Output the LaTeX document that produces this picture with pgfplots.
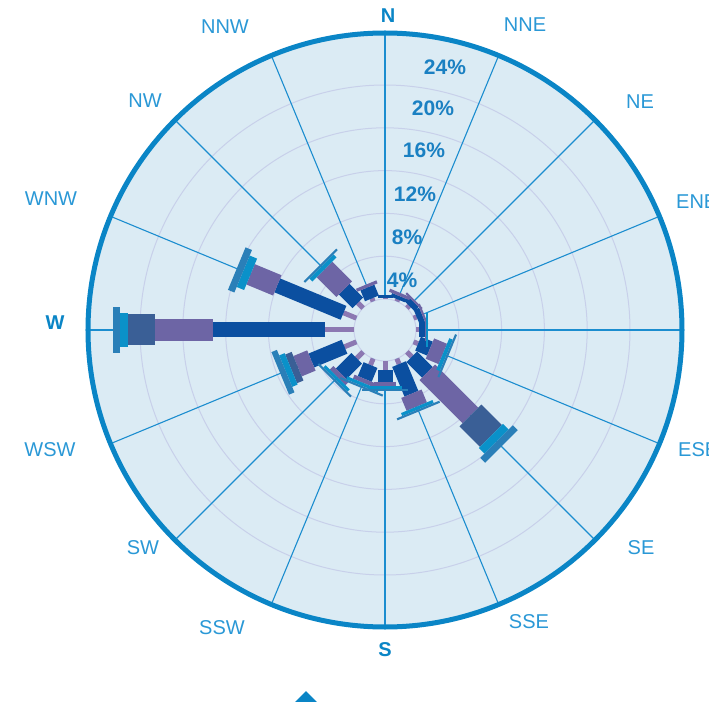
\documentclass[border=0pt]{standalone}
\usepackage{pgfplots}
\pgfplotsset{compat=1.18}
\usepackage{pgfplotstable}
\usepackage{fontspec}
\setmainfont{Liberation Sans}

\definecolor{disk}{HTML}{DBEBF4}
\definecolor{rim}{HTML}{0A85C6}
\definecolor{spoke}{HTML}{1B8DCF}
\definecolor{ringc}{HTML}{C8D0EA}
\definecolor{lbl}{HTML}{2A98D6}
\definecolor{pct}{HTML}{1A80C2}
\definecolor{c1}{HTML}{8C78B2}
\definecolor{c2}{HTML}{0B4FA0}
\definecolor{c3}{HTML}{6D65A5}
\definecolor{c4}{HTML}{3A5F96}
\definecolor{c5}{HTML}{0A91C9}
\definecolor{c6}{HTML}{2A7FB8}

% frequency (%) per direction and speed class, read off the rose
\pgfplotstableread{
dir ang   lp   db    pu   sl   cy   st
N   90    0.1  0.3   0    0    0    0
NNE 67.5  0.2  0.35  0.3  0    0    0
NE  45    0.3  0.55  0.2  0    0    0
ENE 22.5  0.3  0.55  0.2  0    0    0
E   0     0.3  0.55  0.1  0    0.2  0
ESE -22.5 0.45 1.2   1.3  0    0.35 0.2
SE  -45   0.65 2.05  5.7  2.7  0.75 0.65
SSE -67.5 0.55 3.0   1.3  0    0.3  0.2
S   -90   0.85 1.1   0.4  0    0.3  0.2
SSW -112.5 0.65 1.4  0.4  0    0.3  0.2
SW  -135  0.85 2.05  0.45 0    0.3  0.2
WSW -157.5 1.2 3.35  1.4  0.65 0.55 0.55
W   180   2.7  10.5  5.4  2.5  0.75 0.65
WNW 157.5 1.3  6.7   2.7  0    0.75 0.65
NW  135   0.7  1.8   2.6  0    0.4  0.2
NNW 112.5 0.3  1.1   0.3  0    0    0
}\rosedata

% hole radius 31bp, 10.7bp per percent
% #1 colour, #2 bar width, #3 start (%), #4 column
\newcommand{\rosebar}[4]{%
  \addplot[draw=#1, line width=#2, line cap=butt, mark=none,
    restrict expr to domain={\thisrow{#4}}{0.01:100},
    quiver={u={10.7*\thisrow{#4}*cos(\thisrow{ang})},
            v={10.7*\thisrow{#4}*sin(\thisrow{ang})}}]
    table[x expr={(31+10.7*(#3))*cos(\thisrow{ang})},
          y expr={(31+10.7*(#3))*sin(\thisrow{ang})}] {\rosedata};}

\begin{document}
\begin{tikzpicture}
\path (-385bp,-372bp) rectangle (324bp,330bp);
\begin{pgfinterruptboundingbox}
\begin{scope}
\clip (-385bp,-372bp) rectangle (324bp,330bp);

\fill[disk] (0,0) circle[radius=297bp];
\foreach \r in {31,73.8,116.6,159.4,202.2,245}
  \draw[ringc, line width=1bp] (0,0) circle[radius=\r bp];
\foreach \a in {0,22.5,...,337.5}
  \draw[spoke, line width=1.1bp] (\a:31bp) -- (\a:295bp);
\draw[rim, line width=5bp] (0,0) circle[radius=297bp];
\fill[rim] (-79bp,-361bp) -- (-100bp,-382bp) -- (-58bp,-382bp) -- cycle;

\begin{axis}[at={(0,0)}, anchor=origin, x=1bp, y=1bp,
  xmin=-385, xmax=324, ymin=-372, ymax=330,
  hide axis, clip=false]
\rosebar{c1}{5bp}{0}{lp}
\rosebar{c2}{15bp}{\thisrow{lp}}{db}
\rosebar{c3}{22bp}{\thisrow{lp}+\thisrow{db}}{pu}
\rosebar{c4}{31bp}{\thisrow{lp}+\thisrow{db}+\thisrow{pu}}{sl}
\rosebar{c5}{34bp}{\thisrow{lp}+\thisrow{db}+\thisrow{pu}+\thisrow{sl}}{cy}
\rosebar{c6}{46bp}{\thisrow{lp}+\thisrow{db}+\thisrow{pu}+\thisrow{sl}+\thisrow{cy}}{st}
\end{axis}

\begin{scope}[every node/.style={font=\fontsize{20bp}{23bp}\selectfont, text=lbl, inner sep=0pt}]
\node[font=\fontsize{20bp}{23bp}\selectfont\bfseries, text=rim] at (3bp,314bp) {N};
\node at (140bp,305bp) {NNE};
\node at (255bp,228bp) {NE};
\node[anchor=west] at (291bp,128bp) {ENE};
\node[anchor=west] at (293bp,-120bp) {ESE};
\node at (256bp,-218bp) {SE};
\node at (144bp,-292bp) {SSE};
\node[font=\fontsize{20bp}{23bp}\selectfont\bfseries, text=rim] at (0bp,-320bp) {S};
\node at (-163bp,-298bp) {SSW};
\node at (-242bp,-218bp) {SW};
\node at (-335bp,-120bp) {WSW};
\node[font=\fontsize{20bp}{23bp}\selectfont\bfseries, text=rim] at (-330bp,7bp) {W};
\node at (-334bp,131bp) {WNW};
\node at (-240bp,229bp) {NW};
\node at (-160bp,303bp) {NNW};
\end{scope}

\begin{scope}[every node/.style={font=\fontsize{21bp}{23bp}\selectfont\bfseries, text=pct, inner sep=0pt}]
\node at (17bp,50bp) {4\%};
\node at (22bp,93bp) {8\%};
\node at (30bp,136bp) {12\%};
\node at (39bp,180bp) {16\%};
\node at (48bp,222bp) {20\%};
\node at (60bp,263bp) {24\%};
\end{scope}
\end{scope}
\end{pgfinterruptboundingbox}
\end{tikzpicture}
\end{document}
